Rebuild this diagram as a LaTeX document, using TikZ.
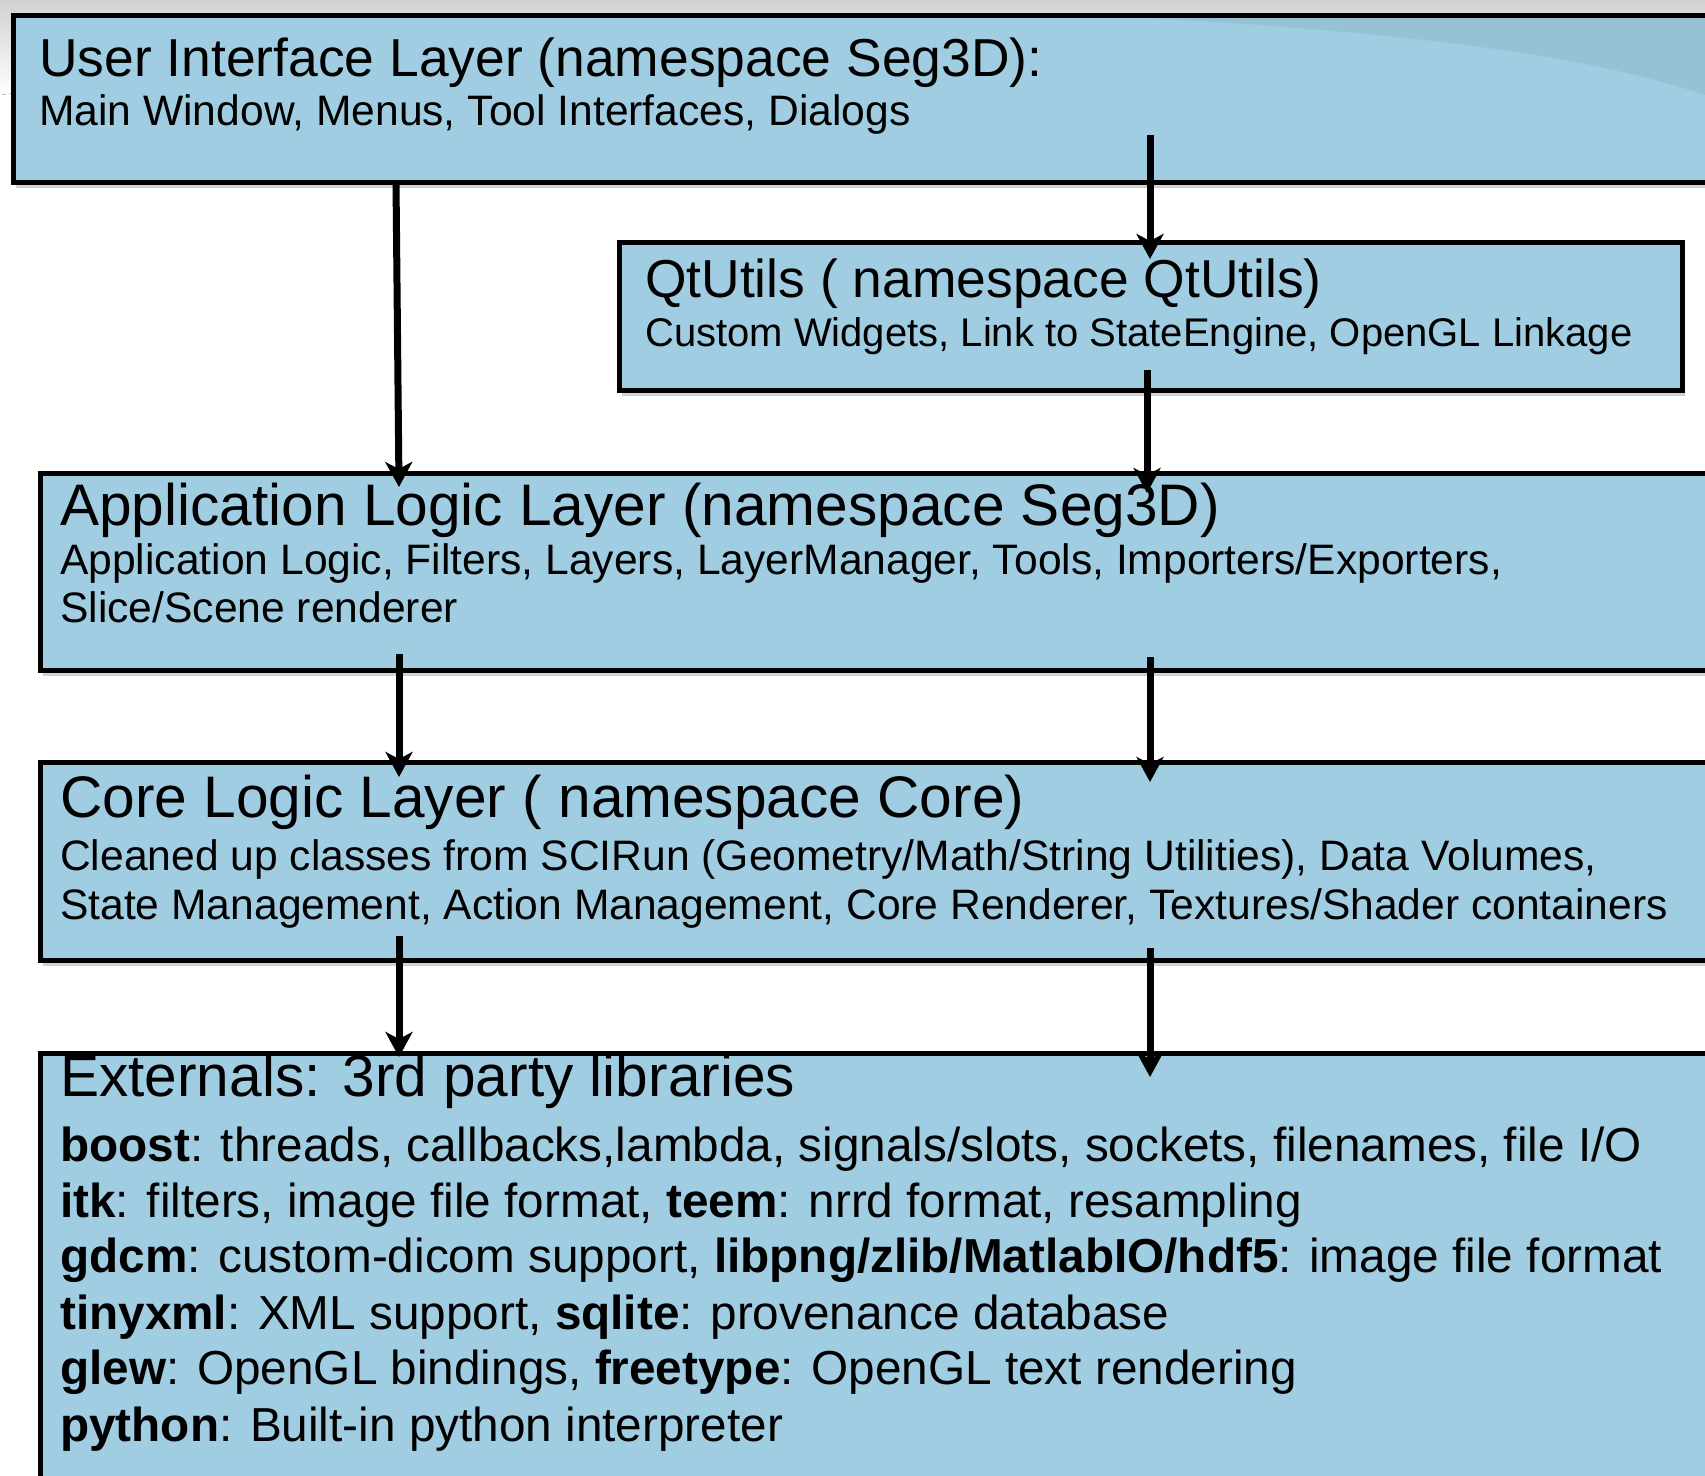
\documentclass[tikz,border=0pt]{standalone}
\usepackage{fontspec}
\setmainfont{Liberation Sans}
\usetikzlibrary{arrows.meta,shadows,calc,fadings}
\definecolor{boxblue}{RGB}{160,205,225}
\begin{document}
\begin{tikzpicture}[x=1pt,y=-1pt,
  layerbox/.style={draw=black, line width=5pt, fill=boxblue, rectangle, inner sep=0pt, outer sep=0pt, anchor=north west,
    drop shadow={shadow xshift=3pt, shadow yshift=-6pt, opacity=0.25, fill=black!70}},
  ttlA/.style={anchor=base west, inner sep=0pt, font=\fontsize{53.4}{60}\selectfont},
  ttlB/.style={anchor=base west, inner sep=0pt, font=\fontsize{58.6}{66}\selectfont},
  sub/.style={anchor=base west, inner sep=0pt, font=\fontsize{42.6}{48}\selectfont},
  qsub/.style={anchor=base west, inner sep=0pt, font=\fontsize{40}{46}\selectfont},
  ext/.style={anchor=base west, inner sep=0pt, font=\fontsize{47.7}{56}\selectfont},
  arr/.style={line width=7pt, -{Stealth[length=25pt,width=27pt,inset=7pt]}}
]
\clip (0,0) rectangle (1705,1475);
\fill[white] (0,0) rectangle (1705,1475);
% background swoosh
\fill[top color=black!18, bottom color=white] (0,0) -- (1705,0) -- (1705,20) .. controls (1100,12) and (400,40) .. (0,95) -- cycle;

% boxes
\node[layerbox, minimum width=1800pt, minimum height=167pt] (ui) at (13,15) {};
\fill[black, opacity=0.05] (1150,18) .. controls (1450,35) and (1600,60) .. (1705,95) -- (1705,18) -- cycle;
\node[layerbox, minimum width=1063pt, minimum height=148pt] (qt) at (619,242) {};
\node[layerbox, minimum width=1800pt, minimum height=197pt] (app) at (40,473) {};
\node[layerbox, minimum width=1800pt, minimum height=198pt] (core) at (40,762) {};
\node[layerbox, minimum width=1800pt, minimum height=500pt] (ext) at (40,1053) {};

% texts
\node[ttlA] (uit) at (39,76) {User Interface Layer (namespace Seg3D):};
\node[sub] (uis) at (39,125) {Main Window, Menus, Tool Interfaces, Dialogs};
\node[ttlA] (qtt) at (645,297) {QtUtils ( namespace QtUtils)};
\node[qsub] (qts) at (645,346) {Custom Widgets, Link to StateEngine, OpenGL Linkage};
\node[ttlB] (appt) at (60,525) {Application Logic Layer (namespace Seg3D)};
\node[sub] (apps1) at (60,574) {Application Logic, Filters, Layers, LayerManager, Tools, Importers/Exporters,};
\node[sub] (apps2) at (60,622) {Slice/Scene renderer};
\node[ttlB] (coret) at (60,817) {Core Logic Layer ( namespace Core)};
\node[sub] (cores1) at (60,870) {Cleaned up classes from SCIRun (Geometry/Math/String Utilities), Data Volumes,};
\node[sub] (cores2) at (60,919) {State Management, Action Management, Core Renderer, Textures/Shader containers};
\node[ttlB] (extt) at (60,1096) {Externals: 3rd party libraries};
\node[ext] (ext1) at (60,1161) {\textbf{boost}: threads, callbacks,lambda, signals/slots, sockets, filenames, file I/O};
\node[ext] (ext2) at (60,1217) {\textbf{itk}: filters, image file format, \textbf{teem}: nrrd format, resampling};
\node[ext] (ext3) at (60,1272) {\textbf{gdcm}: custom-dicom support, \textbf{libpng/zlib/MatlabIO/hdf5}: image file format};
\node[ext] (ext4) at (60,1329) {\textbf{tinyxml}: XML support, \textbf{sqlite}: provenance database};
\node[ext] (ext5) at (60,1384) {\textbf{glew}: OpenGL bindings, \textbf{freetype}: OpenGL text rendering};
\node[ext] (ext6) at (60,1441) {\textbf{python}: Built-in python interpreter};

% arrows
\draw[arr] ($(ui.south west)+(383,0)$) -- ($(app.north west)+(359,14)$);
\draw[arr] ($(ui.north west)+(1137,120)$) -- ($(qt.north west)+(531,17)$);
\draw[arr] ($(qt.north west)+(528,128)$) -- ($(app.north west)+(1107,20)$);
\draw[arr] ($(app.north west)+(359,181)$) -- ($(core.north west)+(359,15)$);
\draw[arr] ($(app.north west)+(1110,184)$) -- ($(core.north west)+(1110,20)$);
\draw[arr] ($(core.north west)+(359,174)$) -- ($(ext.north west)+(359,4)$);
\draw[arr] ($(core.north west)+(1110,186)$) -- ($(ext.north west)+(1110,24)$);
\end{tikzpicture}
\end{document}
